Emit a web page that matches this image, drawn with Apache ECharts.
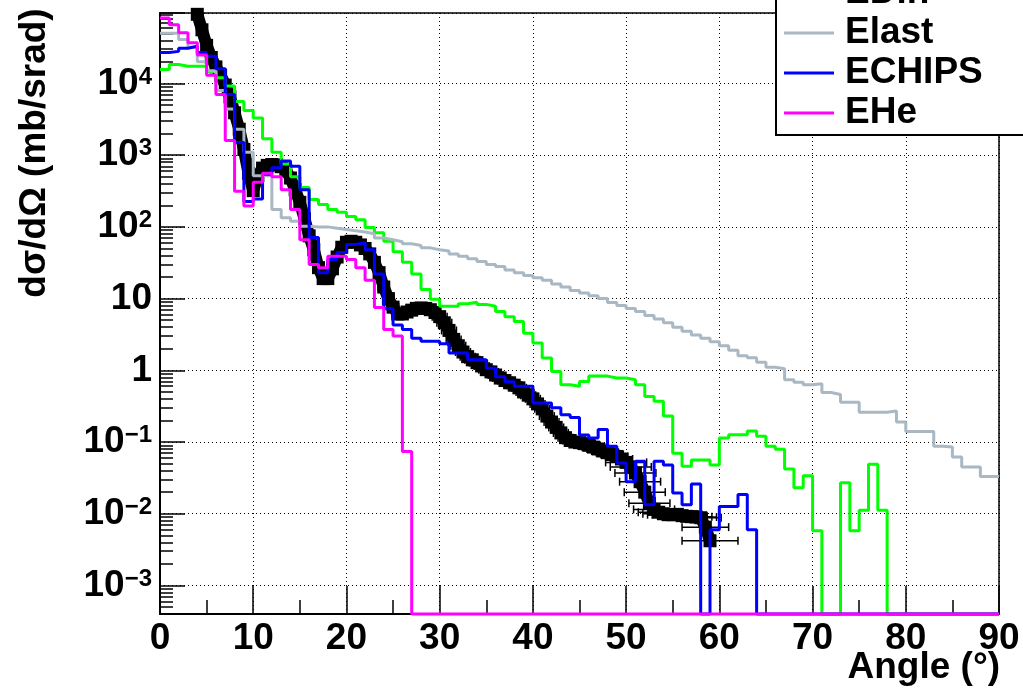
<!DOCTYPE html>
<html>
<head>
<meta charset="utf-8">
<title>dsigma/dOmega vs angle</title>
<script src="https://cdn.jsdelivr.net/npm/echarts@6/dist/echarts.min.js"></script>
<style>
  html, body { margin: 0; padding: 0; background: #fff; }
  #chart { width: 1023px; height: 688px; }
</style>
</head>
<body>
<div id="chart"></div>
<script>
// axis range
var yMin = 4e-4, yMax = 9.6e4;
var xMin = 0, xMax = 90;

// histograms: one value per 1-degree bin, 0..89 deg (0 = empty bin)
var binStart = 0;
var edin = [1.57e4, 1.84e4, 1.74e4, 1.74e4, 1.74e4, 1.47e4, 1.2e4, 9.2e3, 5.6e3, 4.2e3,
  3.3e3, 1.7e3, 1.1e3, 750, 500, 355, 240, 205, 175, 160,
  140, 126, 98, 83, 63, 45, 32, 22, 13.4, 9.8,
  7.8, 7.8, 8.5, 8.9, 8.3, 7.8, 6.6, 5.6, 4.8, 3.3,
  2.4, 1.48, 0.96, 0.63, 0.6, 0.7, 0.83, 0.83, 0.78, 0.78,
  0.74, 0.63, 0.43, 0.37, 0.23, 0.07, 0.046, 0.056, 0.056, 0.048,
  0.114, 0.126, 0.126, 0.142, 0.12, 0.087, 0.079, 0.042, 0.023, 0.034,
  0.0058, 0, 0, 0.027, 0.0058, 0.0112, 0.049, 0.0112, 0, 0,
  0, 0, 0, 0, 0, 0, 0, 0, 0, 0];
var elast = [5.0e4, 5.0e4, 4.1e4, 3.2e4, 2.0e4, 1.5e4, 8e3, 4.4e3, 2.3e3, 1.1e3,
  515, 515, 175, 134, 120, 102, 100, 100, 96, 92,
  88, 85, 80, 70, 66, 62, 58, 55, 51, 48,
  46, 42, 39, 36, 33, 30, 28, 25, 23, 21,
  19.5, 18, 16, 14.5, 13, 12, 11, 10, 8.8, 8,
  7.3, 6.6, 5.8, 5.2, 4.6, 4.0, 3.5, 3.1, 2.8, 2.5,
  2.2, 1.9, 1.6, 1.5, 1.3, 1.1, 1.05, 0.74, 0.68, 0.63,
  0.65, 0.49, 0.46, 0.36, 0.36, 0.26, 0.26, 0.26, 0.27, 0.19,
  0.14, 0.14, 0.14, 0.087, 0.085, 0.062, 0.045, 0.045, 0.033, 0.033];
var echips = [2.7e4, 2.8e4, 3.1e4, 3.3e4, 2.7e4, 2.4e4, 1.6e4, 7e3, 1.5e3, 225,
  245, 540, 665, 830, 700, 330, 71, 23, 35, 44,
  57, 60, 48, 22, 7.2, 4.3, 3.7, 2.8, 2.55, 2.55,
  2.35, 1.74, 1.74, 1.4, 1.4, 1.07, 0.81, 0.69, 0.6, 0.6,
  0.35, 0.35, 0.3, 0.24, 0.22, 0.125, 0.114, 0.15, 0.087, 0.051,
  0.028, 0.054, 0.0134, 0.054, 0.048, 0.0195, 0.0134, 0.026, 0, 0.006,
  0.0126, 0.0126, 0.0186, 0.006, 0, 0, 0, 0, 0, 0,
  0, 0, 0, 0, 0, 0, 0, 0, 0, 0,
  0, 0, 0, 0, 0, 0, 0, 0, 0, 0];
var ehe = [8.2e4, 6.6e4, 5.1e4, 3.7e4, 2.5e4, 1.3e4, 7e3, 1.6e3, 315, 195,
  420, 560, 500, 330, 175, 66, 30, 27, 39, 39,
  35, 27, 18, 7.5, 3.7, 3.0, 0.074, 0, 0, 0,
  0, 0, 0, 0, 0, 0, 0, 0, 0, 0,
  0, 0, 0, 0, 0, 0, 0, 0, 0, 0,
  0, 0, 0, 0, 0, 0, 0, 0, 0, 0,
  0, 0, 0, 0, 0, 0, 0, 0, 0, 0,
  0, 0, 0, 0, 0, 0, 0, 0, 0, 0,
  0, 0, 0, 0, 0, 0, 0, 0, 0, 0];

// measured points
var dataAngle = [4, 4.5, 5, 5.5, 6, 6.5, 7, 7.5, 8, 8.5, 9, 9.5, 10, 10.5, 11, 11.5, 12, 12.5, 13, 13.5,
  14, 14.5, 15, 15.5, 16, 16.5, 17, 17.5, 18, 18.5, 19, 19.5, 20, 20.5, 21, 21.5, 22, 22.5, 23, 23.5,
  24, 24.5, 25, 25.5, 26, 26.5, 27, 27.5, 28, 28.5, 29, 29.5, 30, 30.5, 31, 31.5, 32, 32.5, 33, 33.5,
  34, 34.5, 35, 35.5, 36, 36.5, 37, 37.5, 38, 38.5, 39, 39.5, 40, 40.5, 41, 41.5, 42, 42.5, 43, 43.5,
  44, 44.5, 45, 45.5, 46, 46.5, 47, 47.5, 48, 48.5, 49, 49.5, 50, 50.5, 51, 51.5, 52, 52.5, 53, 53.5,
  54, 54.5, 55, 55.5, 56, 56.5, 57, 57.5, 58, 58.5, 59];
var dataValue = [9.2e4, 5.6e4, 3.4e4, 2.3e4, 1.7e4, 1.3e4, 9.5e3, 6.5e3, 3.9e3, 2.3e3, 1.2e3, 560, 320, 520, 660, 720, 740, 730, 690, 610,
  480, 330, 220, 130, 75, 48, 27, 19, 19, 26, 38, 52, 61, 63, 61, 56, 50, 42, 32, 23,
  14.5, 10, 7.6, 6.1, 6.1, 6.5, 6.9, 7.3, 7.4, 7.3, 7.0, 6.4, 5.6, 4.6, 3.6, 2.7, 2.2, 1.8, 1.55, 1.4,
  1.28, 1.15, 1.02, 0.95, 0.86, 0.78, 0.72, 0.67, 0.62, 0.57, 0.5, 0.45, 0.4, 0.34, 0.29, 0.23, 0.19, 0.16, 0.134, 0.115,
  0.105, 0.1, 0.098, 0.095, 0.09, 0.085, 0.08, 0.075, 0.071, 0.067, 0.063, 0.058, 0.052, 0.045, 0.037, 0.028, 0.02, 0.014, 0.0115, 0.0105,
  0.01, 0.0097, 0.0097, 0.0098, 0.0094, 0.0092, 0.0091, 0.009, 0.0088, 0.0065, 0.0042];
var dataAngleErr = [0.25, 0.25, 0.25, 0.25, 0.25, 0.25, 0.25, 0.25, 0.25, 0.25, 0.25, 0.25, 0.25, 0.25, 0.25, 0.25, 0.25, 0.25, 0.25, 0.25,
  0.25, 0.25, 0.25, 0.25, 0.25, 0.25, 0.25, 0.25, 0.25, 0.25, 0.25, 0.25, 0.5, 0.5, 0.5, 0.5, 0.5, 0.5, 0.5, 0.5,
  0.6, 0.6, 0.6, 0.6, 0.6, 0.6, 0.6, 0.6, 0.6, 0.6, 0.6, 0.6, 0.8, 0.8, 0.8, 0.8, 0.8, 0.8, 0.8, 0.8,
  0.8, 0.8, 0.8, 0.8, 0.8, 0.8, 0.8, 0.8, 0.8, 0.8, 0.8, 0.8, 0.8, 0.8, 0.8, 0.8, 0.8, 0.8, 0.8, 0.8,
  0.8, 0.8, 1.2, 1.2, 1.2, 1.2, 1.2, 1.2, 1.2, 1.2, 1.2, 1.2, 2.2, 2.2, 2.2, 2.2, 2.2, 2.2, 2.2, 2.2,
  2.2, 2.2, 2.2, 2.2, 2.2, 2.2, 2.2, 2.2, 2.2, 2.5, 3.0];

// tick labels
var xTickStep = 10;
var yMinorTicks = [];
for (var e = -4; e <= 4; e++) {
  for (var k = 2; k <= 9; k++) {
    var t = k * Math.pow(10, e);
    if (t > yMin && t < yMax) yMinorTicks.push(+t.toPrecision(3));
  }
}

var FONT = 'Liberation Sans';
var DOTS = [1, 3];

function histData(vals) {
  var out = [];
  for (var i = 0; i < vals.length; i++) {
    out.push([binStart + i, vals[i] > 0 ? vals[i] : yMin]);
  }
  out.push([binStart + vals.length, vals[vals.length - 1] > 0 ? vals[vals.length - 1] : yMin]);
  return out;
}

function histSeries(name, vals, color) {
  return {
    name: name,
    type: 'line',
    step: 'end',
    symbol: 'none',
    clip: false,
    data: histData(vals),
    lineStyle: { color: color, width: 3 },
    itemStyle: { color: color },
    z: 3
  };
}

function logLabel(v) {
  var l = Math.log10(v);
  var e = Math.round(l);
  if (Math.abs(l - e) > 1e-6) return '';
  if (e === 0) return '{b|1}';
  if (e === 1) return '{b|10}';
  return '{b|10}{s|' + (e < 0 ? '\u2212' + (-e) : e) + '}';
}

var points = [];
var errs = [];
for (var i = 0; i < dataAngle.length; i++) {
  points.push([dataAngle[i], dataValue[i]]);
  errs.push([dataAngle[i], dataValue[i], dataAngleErr[i]]);
}

// horizontal error bar with end caps
function renderErr(params, api) {
  var x = api.value(0), y = api.value(1), d = api.value(2);
  var a = api.coord([x - d, y]);
  var b = api.coord([x + d, y]);
  var st = { stroke: '#000', lineWidth: 1.5 };
  var cap = 4;
  return {
    type: 'group',
    children: [
      { type: 'line', shape: { x1: a[0], y1: a[1], x2: b[0], y2: b[1] }, style: st },
      { type: 'line', shape: { x1: a[0], y1: a[1] - cap, x2: a[0], y2: a[1] + cap }, style: st },
      { type: 'line', shape: { x1: b[0], y1: b[1] - cap, x2: b[0], y2: b[1] + cap }, style: st }
    ]
  };
}

var chart = echarts.init(document.getElementById('chart'));
var option = {
  animation: false,
  backgroundColor: '#fff',
  textStyle: { fontFamily: FONT },
  grid: {
    left: 160, right: 24, top: 13, bottom: 74,
    show: true, borderColor: '#000', borderWidth: 1.5, backgroundColor: 'transparent'
  },
  legend: {
    data: ['EDin', 'Elast', 'ECHIPS', 'EHe'],
    orient: 'vertical',
    left: 776,
    top: -29,
    padding: [2, 60, 2, 8],
    itemGap: 0,
    itemWidth: 50,
    itemHeight: 3,
    icon: 'rect',
    selectedMode: false,
    backgroundColor: '#fff',
    borderColor: '#000',
    borderWidth: 2,
    borderRadius: 0,
    textStyle: { fontFamily: FONT, fontSize: 37, fontWeight: 'bold', color: '#000', lineHeight: 40, padding: [0, 0, 0, 6] }
  },
  xAxis: {
    type: 'value',
    min: xMin, max: xMax, interval: xTickStep,
    axisLine: { show: true, lineStyle: { color: '#000', width: 2 } },
    axisTick: { show: true, inside: true, length: 28, lineStyle: { color: '#000', width: 1.5 } },
    minorTick: { show: true, splitNumber: 2, length: 14, lineStyle: { color: '#000', width: 1.5 } },
    axisLabel: { color: '#000', fontFamily: FONT, fontSize: 37, fontWeight: 'bold', margin: 6 },
    splitLine: { show: true, lineStyle: { color: '#000', width: 1, type: DOTS } }
  },
  yAxis: [{
    type: 'log',
    logBase: 10,
    min: yMin, max: yMax,
    position: 'left',
    axisLine: { show: true, lineStyle: { color: '#000', width: 2 } },
    axisTick: { show: true, inside: true, length: 25, lineStyle: { color: '#000', width: 1.5 } },
    axisLabel: {
      formatter: logLabel,
      margin: 8,
      color: '#000',
      rich: {
        b: { fontFamily: FONT, fontSize: 37, fontWeight: 'bold', color: '#000' },
        s: { fontFamily: FONT, fontSize: 24, fontWeight: 'bold', color: '#000', verticalAlign: 'top' }
      }
    },
    splitLine: { show: true, lineStyle: { color: '#000', width: 1, type: DOTS } }
  }, {
    type: 'log',
    logBase: 10,
    min: yMin, max: yMax,
    position: 'left',
    axisLine: { show: false },
    axisLabel: { show: false },
    splitLine: { show: false },
    axisTick: { show: true, inside: true, length: 13, customValues: yMinorTicks, lineStyle: { color: '#000', width: 1.5 } }
  }],
  graphic: [
    {
      type: 'text', x: 35, y: 153, rotation: Math.PI / 2,
      style: {
        text: 'd\u03c3/d\u03a9 (mb/srad)', fill: '#000',
        font: 'bold 37px "Liberation Sans"', textAlign: 'center', textVerticalAlign: 'middle', verticalAlign: 'middle'
      }
    },
    {
      type: 'text', x: 1000, y: 668,
      style: {
        text: 'Angle (\u00b0)', fill: '#000',
        font: 'bold 37px "Liberation Sans"', textAlign: 'right', textVerticalAlign: 'middle', verticalAlign: 'middle'
      }
    }
  ],
  series: [
    {
      name: 'Data',
      type: 'custom',
      renderItem: renderErr,
      encode: { x: 0, y: 1 },
      data: errs,
      z: 1
    },
    {
      name: 'Data',
      type: 'line',
      data: points,
      symbol: 'rect',
      symbolSize: 13,
      showSymbol: true,
      lineStyle: { color: '#000', width: 12 },
      itemStyle: { color: '#000' },
      z: 2
    },
    histSeries('EDin', edin, '#00ff00'),
    histSeries('Elast', elast, '#a9b8c2'),
    histSeries('ECHIPS', echips, '#0000ff'),
    histSeries('EHe', ehe, '#ff00ff')
  ]
};
chart.setOption(option);
</script>
</body>
</html>
